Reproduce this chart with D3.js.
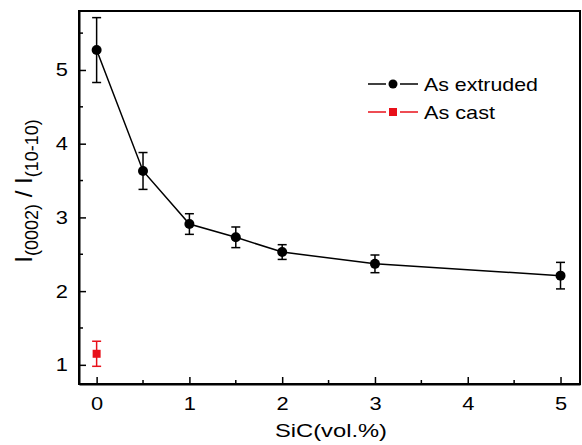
<!DOCTYPE html>
<html>
<head>
<meta charset="utf-8">
<script src="https://cdn.jsdelivr.net/npm/d3@7"></script>
<style>
body{margin:0;background:#fff;}
svg text{font-family:"Liberation Sans",Arial,sans-serif;}
</style>
</head>
<body>
<svg id="chart" width="582" height="445"></svg>
<script>
//data
var extrudedX=[0,0.5,1,1.5,2,3,5];
var extrudedY=[5.27,3.63,2.91,2.73,2.53,2.37,2.21];
var extrudedErr=[0.44,0.25,0.14,0.14,0.10,0.12,0.18];
var castX=[0];
var castY=[1.15];
var castErr=[0.17];
var xTicks=[0,1,2,3,4,5];
var yTicks=[1,2,3,4,5];

var W=582,H=445;
var m={left:79,top:11,right:2,bottom:61};
var sx=1.18; //text looks stretched sideways in the original
var svg=d3.select("#chart");

var x=d3.scaleLinear().domain([-0.19,5.21]).range([m.left,W-m.right]);
var y=d3.scaleLinear().domain([0.74,5.8]).range([H-m.bottom,m.top]);

var g=svg.append("g");

//minor ticks
var xMinor=d3.range(0.5,5,1);
var yMinor=d3.range(1.5,5.8,1);
g.selectAll(".xm").data(xMinor).enter().append("line")
    .attr("x1",d=>x(d)).attr("x2",d=>x(d))
    .attr("y1",y.range()[0]).attr("y2",y.range()[0]-4)
    .attr("stroke","#000").attr("stroke-width",1.5);
g.selectAll(".ym").data(yMinor).enter().append("line")
    .attr("y1",d=>y(d)).attr("y2",d=>y(d))
    .attr("x1",m.left).attr("x2",m.left+4)
    .attr("stroke","#000").attr("stroke-width",1.5);

//axes
var xAxis=d3.axisBottom(x).tickValues(xTicks).tickFormat(d3.format("d")).tickSizeInner(-7).tickSizeOuter(0).tickPadding(13);
var yAxis=d3.axisLeft(y).tickValues(yTicks).tickFormat(d3.format("d")).tickSizeInner(-7).tickSizeOuter(0).tickPadding(13);
var gx=g.append("g").attr("transform","translate(0,"+(H-m.bottom)+")").call(xAxis);
var gy=g.append("g").attr("transform","translate("+m.left+",0)").call(yAxis);
[gx,gy].forEach(function(a){
    a.selectAll("text").attr("font-size",18.5).attr("fill","#000")
        .attr("font-family","Liberation Sans, Arial, sans-serif")
        .attr("transform","scale("+sx+",1)");
    a.selectAll("line").attr("stroke-width",1.5);
    a.select(".domain").attr("stroke-width",2);
});
gy.selectAll("text").attr("x",-11/sx);

//frame
g.append("rect").attr("x",m.left).attr("y",m.top)
    .attr("width",W-m.right-m.left).attr("height",H-m.bottom-m.top)
    .attr("fill","none").attr("stroke","#000").attr("stroke-width",2);

//axis titles
svg.append("text").attr("x",331).attr("y",437).attr("text-anchor","middle")
    .attr("font-size",18.5).attr("textLength",112).attr("lengthAdjust","spacingAndGlyphs")
    .text("SiC(vol.%)");
var yt=svg.append("text").attr("transform","translate(32,191) rotate(-90)")
    .attr("text-anchor","middle").attr("font-size",24);
yt.append("tspan").text("I");
yt.append("tspan").attr("font-size",18).attr("dy",6).text("(0002)");
yt.append("tspan").attr("dy",-6).text(" / I");
yt.append("tspan").attr("font-size",18).attr("dy",6).text("(10-10)");

//series
var ext=extrudedX.map((d,i)=>({x:d,y:extrudedY[i],e:extrudedErr[i]}));
var cast=castX.map((d,i)=>({x:d,y:castY[i],e:castErr[i]}));

g.append("path").datum(ext)
    .attr("d",d3.line().x(d=>x(d.x)).y(d=>y(d.y)))
    .attr("fill","none").attr("stroke","#000").attr("stroke-width",1.5);

function errBars(data,color){
    var eb=g.append("g").attr("stroke",color).attr("stroke-width",1.5);
    eb.selectAll(".v").data(data).enter().append("line")
        .attr("x1",d=>x(d.x)).attr("x2",d=>x(d.x))
        .attr("y1",d=>y(d.y-d.e)).attr("y2",d=>y(d.y+d.e));
    eb.selectAll(".t").data(data).enter().append("line")
        .attr("x1",d=>x(d.x)-4.5).attr("x2",d=>x(d.x)+4.5)
        .attr("y1",d=>y(d.y+d.e)).attr("y2",d=>y(d.y+d.e));
    eb.selectAll(".b").data(data).enter().append("line")
        .attr("x1",d=>x(d.x)-4.5).attr("x2",d=>x(d.x)+4.5)
        .attr("y1",d=>y(d.y-d.e)).attr("y2",d=>y(d.y-d.e));
}
errBars(ext,"#000");
errBars(cast,"#e8101a");

g.selectAll(".pt").data(ext).enter().append("circle")
    .attr("cx",d=>x(d.x)).attr("cy",d=>y(d.y)).attr("r",5).attr("fill","#000");
g.selectAll(".sq").data(cast).enter().append("rect")
    .attr("x",d=>x(d.x)-4).attr("y",d=>y(d.y)-4).attr("width",8).attr("height",8)
    .attr("fill","#e8101a");

//legend, line broken around the marker
function legendRow(yy,color,label,len){
    var lg=svg.append("g").attr("stroke",color).attr("stroke-width",1.5);
    lg.append("line").attr("x1",368).attr("x2",386).attr("y1",yy).attr("y2",yy);
    lg.append("line").attr("x1",400).attr("x2",418).attr("y1",yy).attr("y2",yy);
    svg.append("text").attr("x",424).attr("y",yy+7).attr("font-size",18.5)
        .attr("textLength",len).attr("lengthAdjust","spacingAndGlyphs").text(label);
}
legendRow(84,"#000","As extruded",114);
legendRow(112,"#e8101a","As cast",71);
svg.append("circle").attr("cx",393).attr("cy",84).attr("r",4.5).attr("fill","#000");
svg.append("rect").attr("x",389).attr("y",108).attr("width",8).attr("height",8).attr("fill","#e8101a");
</script>
</body>
</html>
